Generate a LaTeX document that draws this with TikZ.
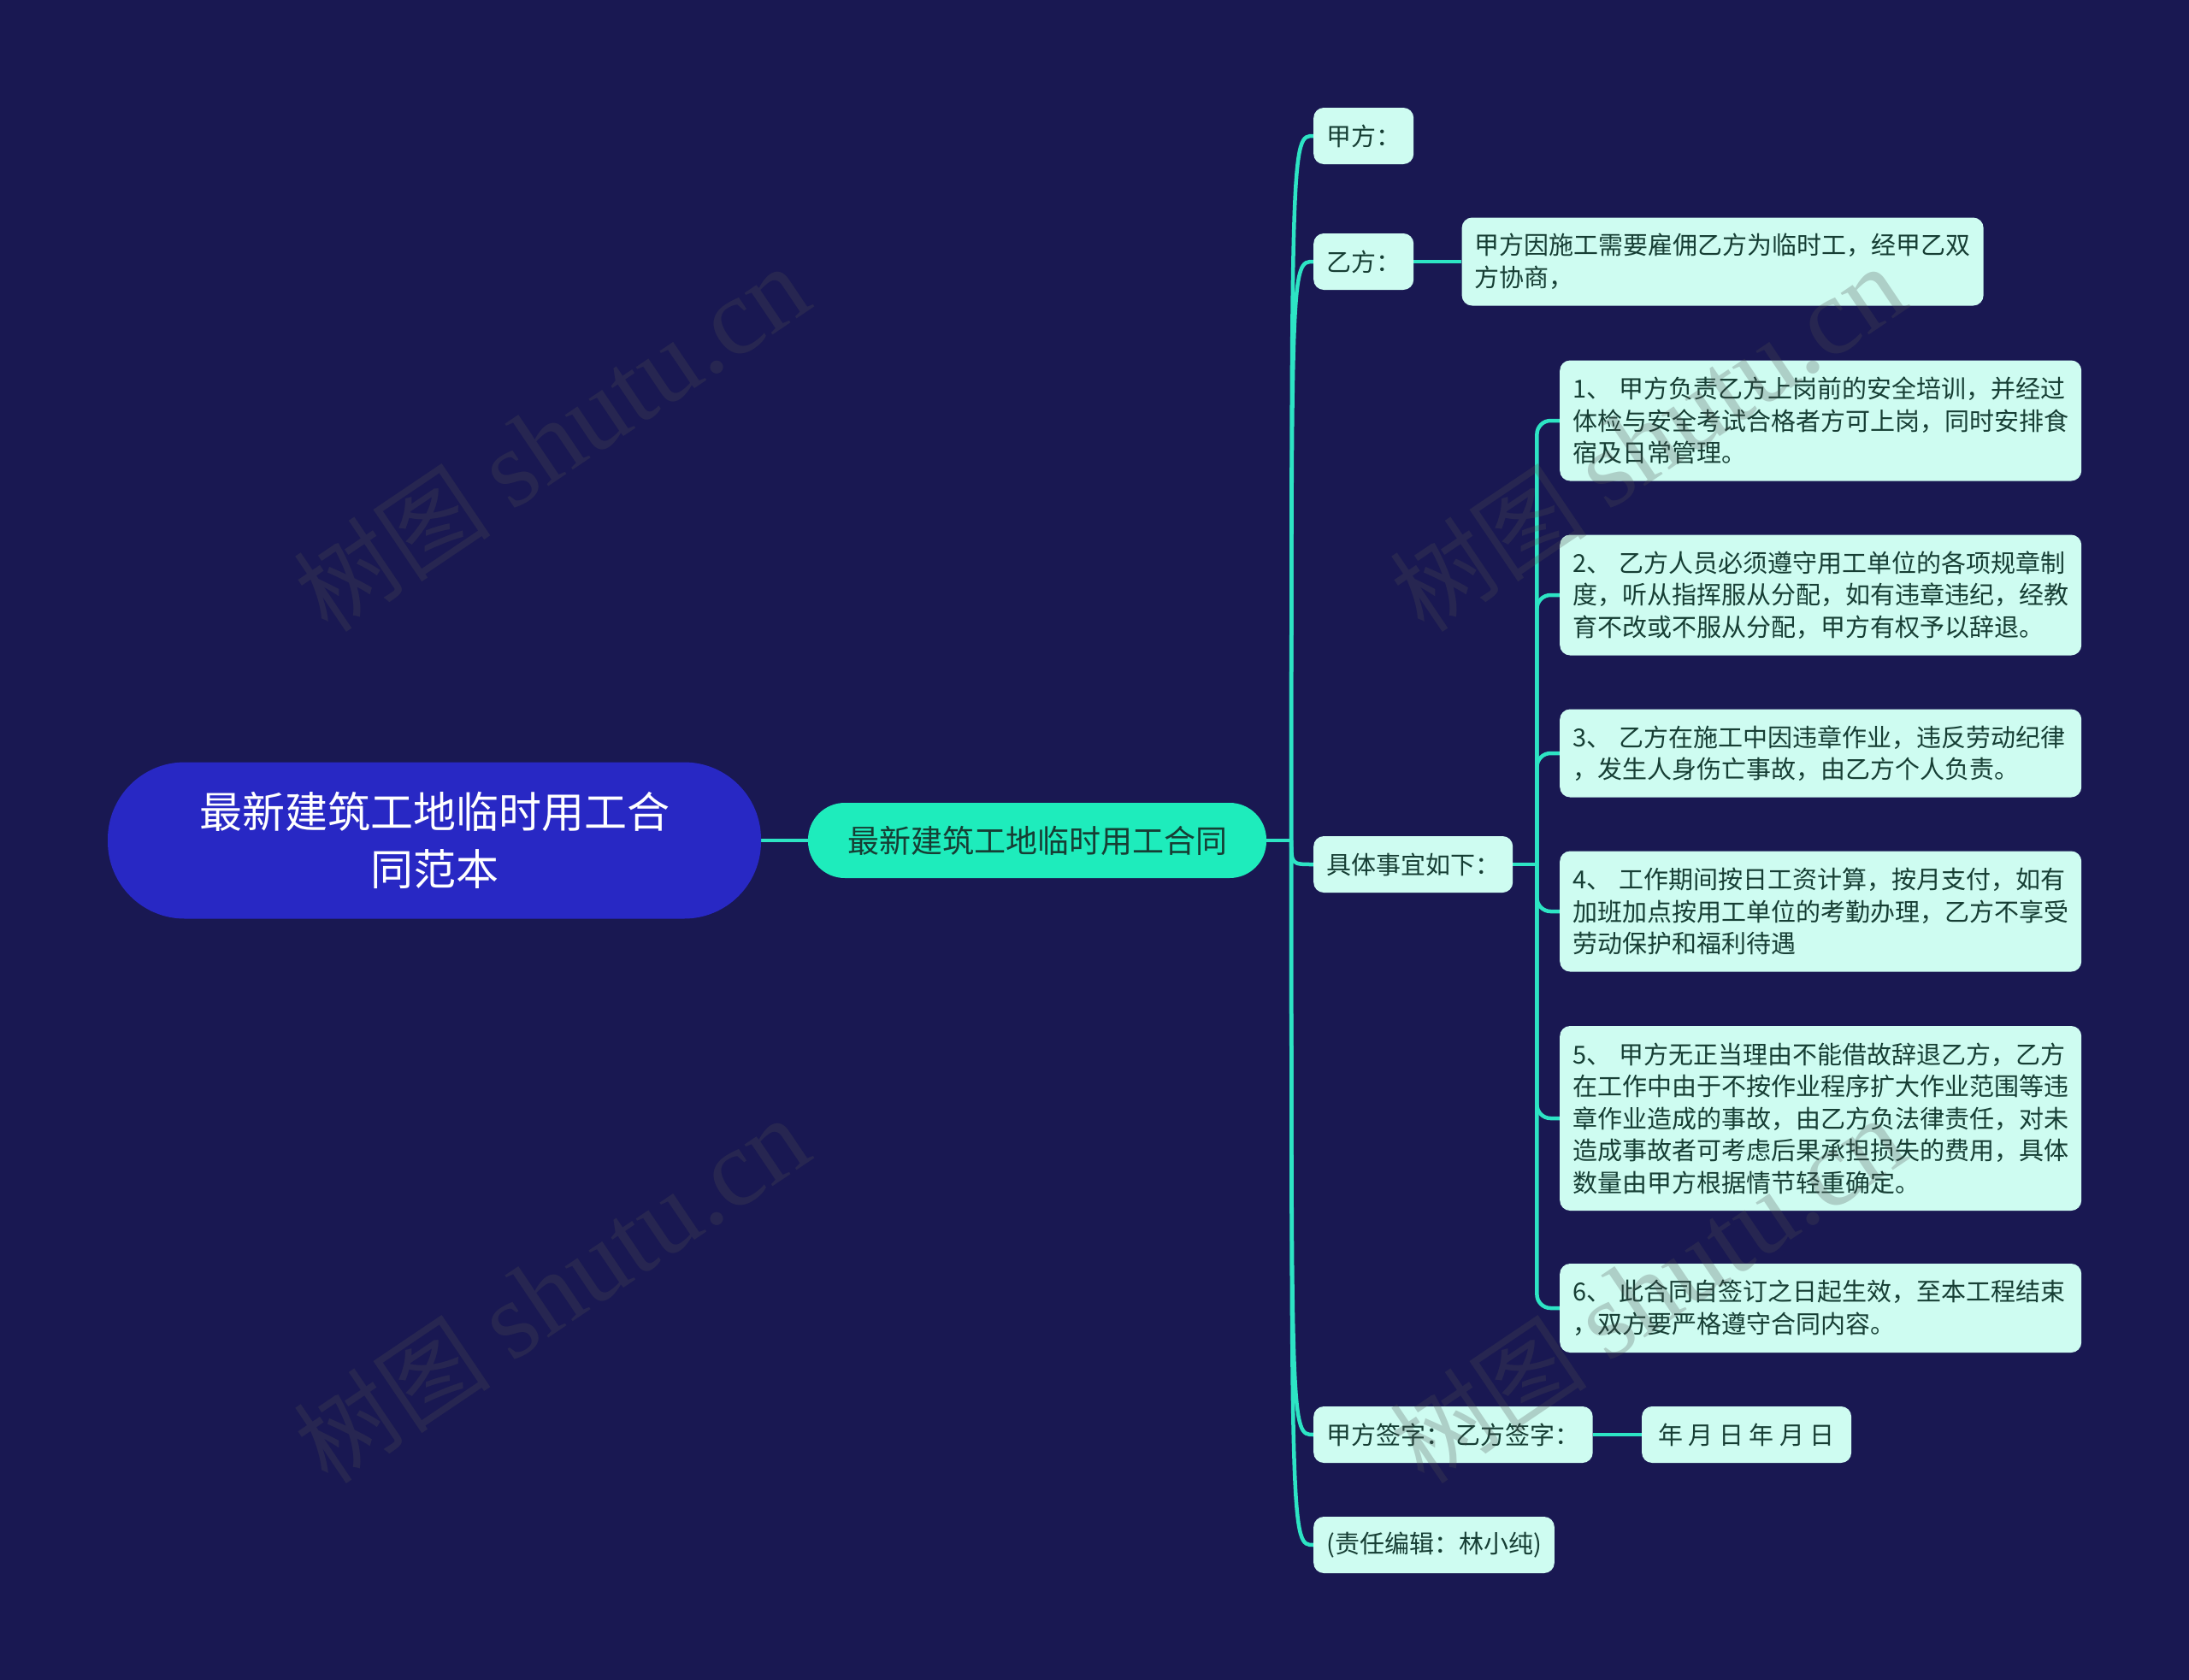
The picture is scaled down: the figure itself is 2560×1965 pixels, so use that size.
\documentclass[tikz,border=0pt]{standalone}
\usepackage{fontspec}
\setmainfont{Noto Sans CJK SC}
\newfontfamily\wmfont{Liberation Serif}
\usetikzlibrary{positioning,calc,backgrounds}

\definecolor{bgnavy}{RGB}{25,24,82}
\definecolor{rootblue}{RGB}{40,40,196}
\definecolor{mainaqua}{RGB}{30,236,188}
\definecolor{leafmint}{RGB}{206,252,241}
\definecolor{linkaqua}{RGB}{45,228,196}
\definecolor{inkgreen}{RGB}{22,62,52}
\definecolor{wmgray}{RGB}{80,80,80}

\begin{document}
\begin{tikzpicture}[x=1pt,y=-1pt,
   link/.style={draw=linkaqua,line width=4.5pt},
   rootnode/.style={fill=rootblue,text=white,rounded corners=90pt,minimum width=764pt,
     minimum height=183pt,text width=640pt,align=center,font=\fontsize{50}{67}\selectfont},
   mainnode/.style={fill=mainaqua,text=inkgreen,rounded corners=43pt,minimum width=536pt,
     minimum height=88pt,font=\fontsize{37}{44}\selectfont},
   topic/.style={fill=leafmint,text=inkgreen,rounded corners=12pt,anchor=west,inner xsep=15pt,
     inner ysep=4pt,minimum height=66pt,font=\fontsize{29}{37.5}\selectfont},
   detail/.style={topic,text width=580pt,align=left},
   watermark/.style={text=wmgray,text opacity=0.26,rotate=34,font=\fontsize{116}{116}\selectfont}]
  \useasboundingbox (0,0) rectangle (2560,1965);

  % center and first level
  \node[rootnode] (root) at (508,983) {最新建筑工地临时用工合\\同范本};
  \node[mainnode] (main) at (1213,983) {最新建筑工地临时用工合同};
  \node[topic] (jia) at (1536,159) {甲方：};
  \node[topic] (yi) at (1536,306) {乙方：};
  \node[detail,minimum height=103pt,right=56pt of yi] (yinote) {甲方因施工需要雇佣乙方为临时工，经甲乙双\\方协商，};
  \node[topic] (spec) at (1536,1011) {具体事宜如下：};
  \node[topic] (sign) at (1536,1678) {甲方签字： 乙方签字：};
  \node[topic,minimum width=245pt,right=57pt of sign] (date) {年 月 日 年 月 日};
  \node[topic] (editor) at (1536,1807) {(责任编辑：林小纯)};

  % the six items
  \node[detail,minimum height=141pt] (d1) at (1824,492) {1、 甲方负责乙方上岗前的安全培训，并经过\\体检与安全考试合格者方可上岗，同时安排食\\宿及日常管理。};
  \node[detail,minimum height=141pt] (d2) at (1824,696) {2、 乙方人员必须遵守用工单位的各项规章制\\度，听从指挥服从分配，如有违章违纪，经教\\育不改或不服从分配，甲方有权予以辞退。};
  \node[detail,minimum height=103pt] (d3) at (1824,881) {3、 乙方在施工中因违章作业，违反劳动纪律\\，发生人身伤亡事故，由乙方个人负责。};
  \node[detail,minimum height=141pt] (d4) at (1824,1066) {4、 工作期间按日工资计算，按月支付，如有\\加班加点按用工单位的考勤办理，乙方不享受\\劳动保护和福利待遇};
  \node[detail,minimum height=216pt] (d5) at (1824,1308) {5、 甲方无正当理由不能借故辞退乙方，乙方\\在工作中由于不按作业程序扩大作业范围等违\\章作业造成的事故，由乙方负法律责任，对未\\造成事故者可考虑后果承担损失的费用，具体\\数量由甲方根据情节轻重确定。};
  \node[detail,minimum height=104pt] (d6) at (1824,1530) {6、 此合同自签订之日起生效，至本工程结束\\，双方要严格遵守合同内容。};

  \begin{scope}[on background layer]
    \fill[bgnavy] (0,0) rectangle (2560,1965);
    \coordinate (hub) at ($(main.east)+(29,0)$);
    \coordinate (fork) at ($(spec.east)+(28,0)$);
    \draw[link] (root) -- (main);
    \draw[link] (main.east) -- (hub);
    \foreach \n in {jia,yi,spec,sign,editor}
      \draw[link] (hub) .. controls (hub |- \n.west) .. (\n.west);
    \draw[link] (yi) -- (yinote);
    \draw[link] (sign) -- (date);
    \draw[link] (spec.east) -- (fork);
    \foreach \n in {d1,d2,d3,d4,d5,d6}
      \draw[link,rounded corners=16pt] (fork) |- (\n.west);
  \end{scope}

  % watermarks
  \node[watermark] (wm1) at (645,514) {树图 {\wmfont\fontsize{128}{128}\selectfont shutu.cn}};
  \node[watermark] (wm2) at (645,1510) {树图 {\wmfont\fontsize{128}{128}\selectfont shutu.cn}};
  \node[watermark] (wm3) at (1927,514) {树图 {\wmfont\fontsize{128}{128}\selectfont shutu.cn}};
  \node[watermark] (wm4) at (1927,1510) {树图 {\wmfont\fontsize{128}{128}\selectfont shutu.cn}};
\end{tikzpicture}
\end{document}
